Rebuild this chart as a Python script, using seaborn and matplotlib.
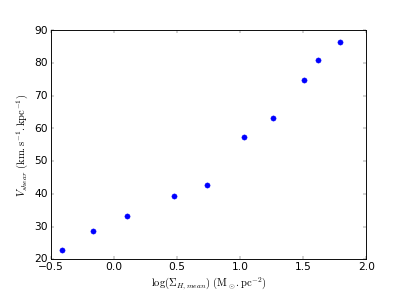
import numpy as np
import pandas as pd
import matplotlib
matplotlib.use("Agg")
import matplotlib.pyplot as plt
import seaborn as sns

log_sigma = [-0.41, -0.167, 0.103, 0.479, 0.74, 1.03, 1.262, 1.51, 1.62, 1.794]
v_shear = [22.85, 28.5, 33.1, 39.2, 42.7, 57.3, 63.2, 74.7, 81.0, 86.3]

plt.style.use("classic")
plt.rcParams["mathtext.fontset"] = "cm"
plt.rcParams["figure.facecolor"] = "white"
plt.rcParams["font.size"] = 15
plt.rcParams["axes.linewidth"] = 1.3

df = pd.DataFrame({"x": log_sigma, "y": v_shear})

fig, ax = plt.subplots(figsize=(8, 6), dpi=50.875)
fig.subplots_adjust(left=0.125, right=0.9, top=0.9, bottom=0.15)
sns.scatterplot(data=df, x="x", y="y", color="b", edgecolor="b", s=55, ax=ax)

ax.set_xlim(-0.5, 2.0)
ax.set_ylim(20, 90)
ax.set_xticks(np.arange(-0.5, 2.01, 0.5))
ax.set_yticks(np.arange(20, 91, 10))
ax.tick_params(labelsize=15)
ax.set_xlabel(r"$\log(\Sigma_{H,mean})\ (\mathrm{M_\odot.pc^{-2}})$", fontsize=15)
ax.set_ylabel(r"$V_{shear}\ (\mathrm{km.s^{-1}.kpc^{-1}})$", fontsize=15)

fig.savefig("out.png", dpi=50.875, facecolor="white")
